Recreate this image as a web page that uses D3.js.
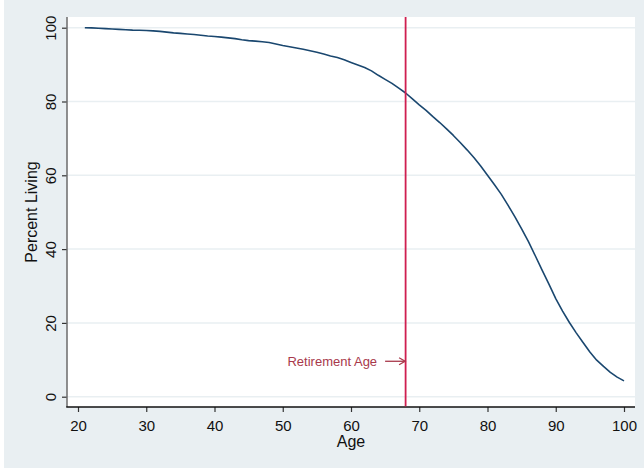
<!DOCTYPE html>
<html>
<head>
<meta charset="utf-8">
<script src="https://cdn.jsdelivr.net/npm/d3@7"></script>
<style>
  html, body { margin: 0; padding: 0; background: #fff; }
  svg { display: block; font-family: "Liberation Sans", Arial, Helvetica, sans-serif; }
</style>
</head>
<body>
<svg id="chart" width="644" height="470"></svg>
<script>
// ---- data ----
const ages = [21,22,23,24,25,26,27,28,29,30,31,32,33,34,35,36,37,38,39,40,
  41,42,43,44,45,46,47,48,49,50,51,52,53,54,55,56,57,58,59,60,
  61,62,63,64,65,66,67,68,69,70,71,72,73,74,75,76,77,78,79,80,
  81,82,83,84,85,86,87,88,89,90,91,92,93,94,95,96,97,98,99,100];
const percentLiving = [100,99.95,99.85,99.75,99.65,99.55,99.45,99.35,99.3,99.25,
  99.15,99.0,98.8,98.6,98.45,98.3,98.15,97.95,97.75,97.6,
  97.45,97.25,97.05,96.75,96.5,96.35,96.2,96.0,95.6,95.2,
  94.85,94.5,94.15,93.75,93.35,92.85,92.35,91.9,91.3,90.6,
  89.9,89.2,88.3,87.1,86.0,84.9,83.6,82.3,80.7,79.1,
  77.6,75.9,74.3,72.6,70.8,68.9,66.9,64.8,62.5,60.0,
  57.5,54.9,51.9,48.8,45.5,42.0,38.2,34.3,30.5,26.6,
  23.2,20.1,17.3,14.7,12.1,9.9,8.2,6.6,5.3,4.3];
const xTicks = [20,30,40,50,60,70,80,90,100];
const yTicks = [0,20,40,60,80,100];
const retirementAge = 68;
const xTitle = "Age";
const yTitle = "Percent Living";
const annotation = "Retirement Age";

// ---- layout ----
const svg = d3.select("#chart");
const plot = {left: 67, right: 635, top: 17, bottom: 407};
const x = d3.scaleLinear().domain([20, 100]).range([78, 624]);
const y = d3.scaleLinear().domain([0, 100]).range([396.7, 27.7]);

// outer background
svg.append("rect").attr("x", 4).attr("y", 0).attr("width", 640).attr("height", 468)
  .attr("fill", "#e9eff2");
// plot region
svg.append("rect").attr("x", plot.left).attr("y", plot.top)
  .attr("width", plot.right - plot.left).attr("height", plot.bottom - plot.top)
  .attr("fill", "#ffffff");

// gridlines
svg.append("g").selectAll("line").data(yTicks).join("line")
  .attr("x1", plot.left).attr("x2", plot.right)
  .attr("y1", d => y(d)).attr("y2", d => y(d))
  .attr("stroke", "#e9eff2").attr("stroke-width", 1.5);

// y axis
const yAxis = svg.append("g").attr("transform", `translate(${plot.left},0)`)
  .call(d3.axisLeft(y).tickValues(yTicks).tickSize(5).tickPadding(6).tickSizeOuter(0));
yAxis.select(".domain").remove();
yAxis.selectAll(".tick line").attr("stroke", "#333").attr("stroke-width", 1.2);
yAxis.selectAll(".tick text")
  .attr("font-size", 15).attr("fill", "#111")
  .attr("x", null).attr("dy", null)
  .attr("text-anchor", "middle")
  .attr("transform", "translate(-11,0) rotate(-90)");
svg.append("line").attr("x1", plot.left).attr("x2", plot.left)
  .attr("y1", plot.top).attr("y2", plot.bottom)
  .attr("stroke", "#6b6b6b").attr("stroke-width", 1.5);

// x axis
const xAxis = svg.append("g").attr("transform", `translate(0,${plot.bottom})`)
  .call(d3.axisBottom(x).tickValues(xTicks).tickSize(5).tickPadding(6).tickSizeOuter(0));
xAxis.select(".domain").remove();
xAxis.selectAll(".tick line").attr("stroke", "#333").attr("stroke-width", 1.2);
xAxis.selectAll(".tick text")
  .attr("font-size", 15).attr("fill", "#111")
  .attr("y", 24).attr("dy", null);
svg.append("line").attr("x1", plot.left - 0.75).attr("x2", plot.right)
  .attr("y1", plot.bottom).attr("y2", plot.bottom)
  .attr("stroke", "#111").attr("stroke-width", 1.5);

// axis titles
svg.append("text").attr("x", (plot.left + plot.right) / 2).attr("y", 447)
  .attr("text-anchor", "middle").attr("font-size", 16).attr("fill", "#111").text(xTitle);
svg.append("text").attr("transform", `translate(37,${(plot.top + plot.bottom) / 2}) rotate(-90)`)
  .attr("text-anchor", "middle").attr("font-size", 16).attr("fill", "#111").text(yTitle);

// curve
const pts = ages.map((a, i) => [a, percentLiving[i]]);
svg.append("path").datum(pts)
  .attr("fill", "none").attr("stroke", "#1a476f").attr("stroke-width", 1.6)
  .attr("stroke-linejoin", "round")
  .attr("d", d3.line().x(d => x(d[0])).y(d => y(d[1])));

// retirement line
svg.append("line").attr("x1", x(retirementAge)).attr("x2", x(retirementAge))
  .attr("y1", plot.top).attr("y2", plot.bottom - 0.75)
  .attr("stroke", "#cf1f50").attr("stroke-width", 1.8);

// annotation
const ay = y(9.6);
const ax = x(retirementAge);
svg.append("text").attr("x", ax - 28.5).attr("y", ay + 4.5)
  .attr("text-anchor", "end").attr("font-size", 13).attr("fill", "#a8394b").text(annotation);
svg.append("line").attr("x1", ax - 20.5).attr("x2", ax - 0.5).attr("y1", ay).attr("y2", ay)
  .attr("stroke", "#a8394b").attr("stroke-width", 1.3);
svg.append("path")
  .attr("d", `M${ax - 6.5},${ay - 3.5} L${ax - 0.5},${ay} L${ax - 6.5},${ay + 3.5}`)
  .attr("fill", "none").attr("stroke", "#a8394b").attr("stroke-width", 1.3);
</script>
</body>
</html>
